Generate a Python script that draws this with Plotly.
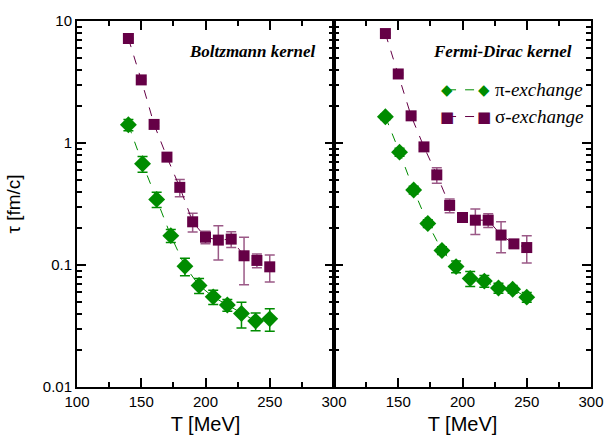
import plotly.graph_objects as go

T_pi = [140, 151, 162, 173, 184, 195, 206, 217, 228, 239, 250]
T_sigma = [140, 150, 160, 170, 180, 190, 200, 210, 220, 230, 240, 250]

boltz_pi = [1.41, 0.676, 0.345, 0.174, 0.0977, 0.068, 0.0548, 0.047, 0.040, 0.0347, 0.0362]
boltz_pi_err = [0.15, 0.10, 0.049, 0.021, 0.016, 0.0095, 0.0074, 0.0052, 0.0095, 0.0058, 0.0075]
boltz_sigma = [7.19, 3.29, 1.42, 0.766, 0.433, 0.226, 0.169, 0.160, 0.163, 0.119, 0.109, 0.0966]
boltz_sigma_err = [0.1, 0.06, 0.04, 0.03, 0.07, 0.04, 0.02, 0.05, 0.024, 0.05, 0.014, 0.024]

fd_pi = [1.64, 0.841, 0.412, 0.219, 0.1315, 0.097, 0.0776, 0.0738, 0.0648, 0.0633, 0.0545]
fd_pi_err = [0.09, 0.064, 0.03, 0.016, 0.0097, 0.0107, 0.011, 0.0081, 0.006, 0.0047, 0.005]
fd_sigma = [7.89, 3.68, 1.67, 0.929, 0.548, 0.308, 0.245, 0.233, 0.233, 0.176, 0.149, 0.139]
fd_sigma_err = [0.12, 0.07, 0.04, 0.03, 0.08, 0.04, 0.014, 0.055, 0.03, 0.05, 0.008, 0.035]

legend_labels = ["π-<i>exchange</i>", "σ-<i>exchange</i>"]

GREEN = "#008c00"
PURPLE = "#650046"
PURPLE_ERR = "rgba(101,0,70,0.65)"
SERIF = "Liberation Serif, serif"
SANS = "Liberation Sans, Arial, sans-serif"

fig = go.Figure()


def add_series(x, y, err, color, errcolor, symbol, size, name, xa, ya):
    fig.add_trace(go.Scatter(
        x=x, y=y, mode="lines+markers", name=name, showlegend=False,
        xaxis=xa, yaxis=ya,
        line=dict(color=color, width=1, dash="dash"),
        marker=dict(symbol=symbol, size=size, color=color),
        error_y=dict(type="data", array=err, visible=True, color=errcolor,
                     thickness=1.5, width=5),
    ))


add_series(T_sigma, boltz_sigma, boltz_sigma_err, PURPLE, PURPLE_ERR, "square", 11, "σ", "x", "y")
add_series(T_pi, boltz_pi, boltz_pi_err, GREEN, GREEN, "diamond", 13, "π", "x", "y")
add_series(T_sigma, fd_sigma, fd_sigma_err, PURPLE, PURPLE_ERR, "square", 11, "σ", "x2", "y2")
add_series(T_pi, fd_pi, fd_pi_err, GREEN, GREEN, "diamond", 13, "π", "x2", "y2")

minor_y = [m * 10 ** e for e in (-2, -1, 0) for m in range(2, 10)]

axis_common = dict(showline=True, linecolor="black", linewidth=2, mirror="ticks",
                   ticks="inside", ticklen=9, tickwidth=1.5, tickcolor="black",
                   showgrid=False, zeroline=False,
                   tickfont=dict(family=SANS, size=15, color="black"))

# manual legend (marker - dashed line - marker, then label), in paper coords
leg_rows = [(0.812, GREEN, "◆", legend_labels[0]), (0.739, PURPLE, "■", legend_labels[1])]
leg_x0, leg_x1, leg_tx = 0.72, 0.792, 0.81
shapes = []
annotations = [
    dict(text="<b><i>Boltzmann kernel</i></b>", xref="x domain", yref="y domain",
         x=0.935, y=0.916, xanchor="right", yanchor="middle", showarrow=False,
         font=dict(family=SERIF, size=17, color="black")),
    dict(text="<b><i>Fermi-Dirac kernel</i></b>", xref="x2 domain", yref="y2 domain",
         x=0.935, y=0.916, xanchor="right", yanchor="middle", showarrow=False,
         font=dict(family=SERIF, size=17, color="black")),
]
for yy, col, glyph, label in leg_rows:
    shapes.append(dict(type="line", xref="paper", yref="paper", x0=leg_x0, x1=leg_x1,
                       y0=yy, y1=yy, line=dict(color=col, width=1, dash="dash")))
    for xx in (leg_x0, leg_x1):
        annotations.append(dict(text=glyph, xref="paper", yref="paper", x=xx, y=yy,
                                xanchor="center", yanchor="middle", showarrow=False,
                                font=dict(family="DejaVu Sans", size=15, color=col)))
    annotations.append(dict(text=label, xref="paper", yref="paper", x=leg_tx, y=yy,
                            xanchor="left", yanchor="middle", showarrow=False,
                            font=dict(family=SERIF, size=19, color="black")))

fig.update_layout(
    width=616, height=444,
    margin=dict(l=76, r=13, t=18, b=55),
    paper_bgcolor="white", plot_bgcolor="white",
    showlegend=False,
    xaxis=dict(domain=[0, 0.5], range=[100, 300], anchor="y",
               tickvals=[100, 150, 200, 250, 300],
               minor=dict(tickvals=[125, 175, 225, 275], ticks="inside", ticklen=5, tickcolor="black"),
               title=dict(text="T [MeV]", font=dict(family=SANS, size=20, color="black"), standoff=8),
               **axis_common),
    xaxis2=dict(domain=[0.5, 1], range=[100, 300], anchor="y2",
                tickvals=[150, 200, 250, 300],
                minor=dict(tickvals=[125, 175, 225, 275], ticks="inside", ticklen=5, tickcolor="black"),
                title=dict(text="T [MeV]", font=dict(family=SANS, size=20, color="black"), standoff=8),
                **axis_common),
    yaxis=dict(type="log", range=[-2, 1], anchor="x",
               tickvals=[0.01, 0.1, 1, 10], ticktext=["0.01", "0.1", "1", "10"],
               minor=dict(tickvals=minor_y, ticks="inside", ticklen=5, tickcolor="black"),
               title=dict(text="τ [fm/c]", font=dict(family=SANS, size=19, color="black"), standoff=17),
               **axis_common),
    yaxis2=dict(type="log", range=[-2, 1], anchor="x2", matches="y",
                tickvals=[0.01, 0.1, 1, 10], showticklabels=False,
                minor=dict(tickvals=minor_y, ticks="inside", ticklen=5, tickcolor="black"),
                **axis_common),
    shapes=shapes,
    annotations=annotations,
)

fig.write_html("out.html")
